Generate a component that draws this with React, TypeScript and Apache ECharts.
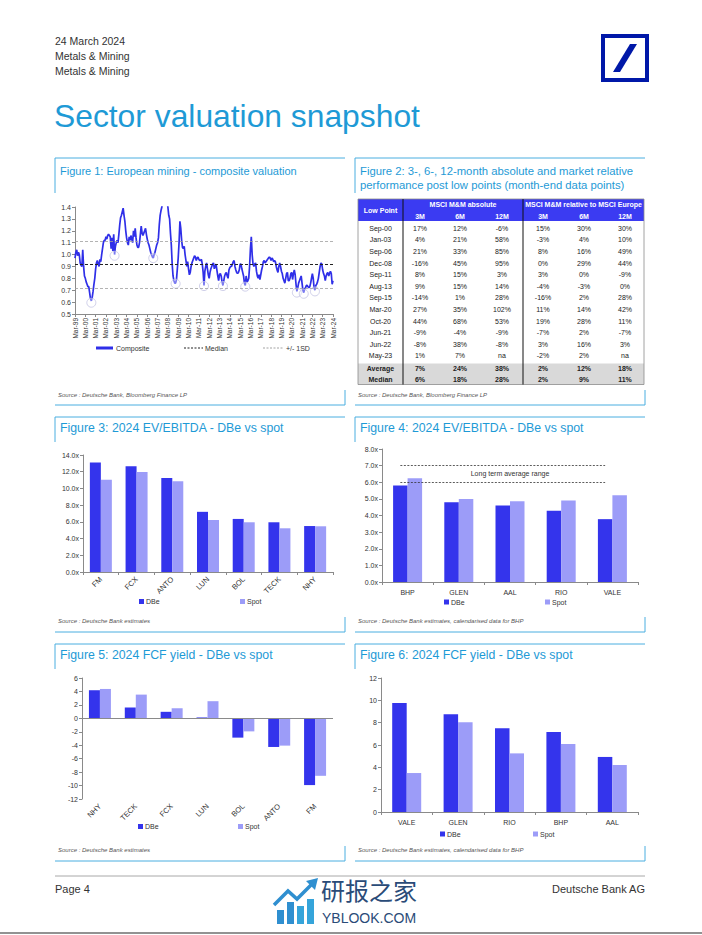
import React, { useEffect, useRef } from 'react';
import * as echarts from 'echarts';

const FONT = '"Liberation Sans", Arial, Helvetica, sans-serif';
const CJK = '"Noto Sans CJK SC", sans-serif';
const DBE = '#3434EC';
const SPOT = '#9C9CF8';
const FRAME = '#4AAEE0';
const TITLE_BLUE = '#1E9AD6';
const TEXT = '#333333';
const AXIS = '#8A8A8A';

// ---------- Figure 1: composite valuation (monthly, Mar-99 .. Mar-24) ----------
const MONTH_NAMES = ['Mar', 'Apr', 'May', 'Jun', 'Jul', 'Aug', 'Sep', 'Oct', 'Nov', 'Dec', 'Jan', 'Feb'];
const START_YEAR = 1999;
const COMPOSITE = [
  0.97, 1.02, 1.04, 0.99, 1.02, 1.0, 0.93, 0.91, 0.9, 1.04, 0.9, 0.82,
  0.8, 0.77, 0.75, 0.73, 0.73, 0.68, 0.63, 0.61, 0.64, 0.69, 0.75, 0.8,
  0.88, 0.93, 0.95, 0.92, 0.9, 0.96, 0.94, 1.0, 1.05, 1.1, 1.12, 1.12,
  1.15, 1.13, 1.16, 1.17, 1.16, 1.15, 1.05, 1.14, 1.03, 1.17, 1.0, 1.07,
  1.1, 1.12, 1.1, 1.17, 1.25, 1.31, 1.33, 1.36, 1.39, 1.33, 1.28, 1.2,
  1.14, 1.1, 1.08, 1.15, 1.12, 1.16, 1.13, 1.1, 1.2, 1.15, 1.22, 1.14,
  1.08, 1.06, 1.06, 1.1, 1.17, 1.24, 1.18, 1.16, 1.18, 1.2, 1.22, 1.17,
  1.13, 1.1, 1.08, 1.05, 1.02, 1.0, 0.98, 0.97, 1.0, 1.02, 1.05, 1.08,
  1.1, 1.14, 1.25, 1.33, 1.37, 1.4, 1.45, 1.5, 1.55, 1.52, 1.5, 1.45,
  1.4, 1.33, 1.3, 1.18, 1.08, 0.92, 0.82, 0.78, 0.76, 0.76, 0.79, 0.88,
  0.97, 1.1, 1.28, 1.22, 1.12, 1.06, 1.05, 1.07, 1.0, 0.95, 0.9, 0.94,
  0.88, 0.83, 0.85, 0.9, 0.93, 0.95, 0.97, 0.99, 0.98, 0.95, 0.97, 0.98,
  0.96, 0.95, 0.95, 0.96, 0.92, 0.85, 0.74, 0.86, 0.9, 0.93, 0.88, 0.83,
  0.8, 0.85, 0.88, 0.9, 0.92, 0.93, 0.88, 0.9, 0.92, 0.87, 0.82, 0.78,
  0.83, 0.84, 0.82, 0.77, 0.74, 0.78, 0.82, 0.84, 0.85, 0.82, 0.8, 0.87,
  0.89, 0.9, 0.9, 0.92, 0.94, 0.95, 0.9, 0.87, 0.85, 0.84, 0.85, 0.87,
  0.92, 0.92, 0.88, 0.85, 0.82, 0.76, 0.74, 0.82, 0.77, 0.78, 0.8, 0.9,
  1.05, 1.15, 1.0, 0.92, 0.9, 0.92, 0.93, 0.86, 0.82, 0.8, 0.83, 0.79,
  0.83, 0.87, 0.9, 0.94, 0.95, 0.93, 0.94, 0.95, 0.96, 0.97, 0.98, 0.97,
  0.95, 0.97, 0.96, 0.94, 0.95, 0.94, 0.9, 0.87, 0.85, 0.9, 0.93, 0.9,
  0.86, 0.84, 0.8, 0.78, 0.76, 0.8, 0.84, 0.85, 0.78, 0.78, 0.8, 0.84,
  0.85, 0.79, 0.84, 0.87, 0.83, 0.75, 0.69, 0.72, 0.76, 0.78, 0.8, 0.82,
  0.76, 0.7, 0.68, 0.71, 0.72, 0.74, 0.74, 0.73, 0.72, 0.73, 0.76, 0.8,
  0.84, 0.8, 0.72, 0.7, 0.74, 0.75, 0.77, 0.8, 0.85, 0.9, 0.93, 0.92,
  0.87, 0.84, 0.82, 0.78, 0.82, 0.84, 0.85, 0.82, 0.84, 0.86, 0.84, 0.75,
  0.78,
];
const MEDIAN = 0.92;
const PLUS_1SD = 1.11;
const MINUS_1SD = 0.725;
// low points marked with circles: [month index from Mar-99, value]
const LOW_CIRCLES = [
  [19, 0.595], [46, 0.99], [91, 0.97], [117, 0.755], [150, 0.735],
  [172, 0.735], [198, 0.73], [258, 0.68], [266, 0.67], [279, 0.69],
];

// ---------- Figure 2: table ----------
const LOW_POINTS = ['Sep-00', 'Jan-03', 'Sep-06', 'Dec-08', 'Sep-11', 'Aug-13', 'Sep-15', 'Mar-20', 'Oct-20', 'Jun-21', 'Jun-22', 'May-23'];
const ABS_3M = ['17%', '4%', '21%', '-16%', '8%', '9%', '-14%', '27%', '44%', '-9%', '-8%', '1%'];
const ABS_6M = ['12%', '21%', '33%', '45%', '15%', '15%', '1%', '35%', '68%', '-4%', '38%', '7%'];
const ABS_12M = ['-6%', '58%', '85%', '95%', '3%', '14%', '28%', '102%', '53%', '-9%', '-8%', 'na'];
const REL_3M = ['15%', '-3%', '8%', '0%', '3%', '-4%', '-16%', '11%', '19%', '-7%', '3%', '-2%'];
const REL_6M = ['30%', '4%', '16%', '29%', '0%', '-3%', '2%', '14%', '28%', '2%', '16%', '2%'];
const REL_12M = ['30%', '10%', '49%', '44%', '-9%', '0%', '28%', '42%', '11%', '-7%', '3%', 'na'];
const SUMMARY_LABELS = ['Average', 'Median'];
const SUMMARY_ROWS = [
  ['7%', '24%', '38%', '2%', '12%', '18%'],
  ['6%', '18%', '28%', '2%', '9%', '11%'],
];
const PERIODS = ['3M', '6M', '12M'];

// ---------- Figure 3: 2024 EV/EBITDA ----------
const FIG3_CATS = ['FM', 'FCX', 'ANTO', 'LUN', 'BOL', 'TECK', 'NHY'];
const FIG3_DBE = [13.1, 12.65, 11.25, 7.2, 6.35, 5.95, 5.5];
const FIG3_SPOT = [11.05, 11.98, 10.85, 6.22, 5.95, 5.23, 5.47];

// ---------- Figure 4: 2024 EV/EBITDA ----------
const FIG4_CATS = ['BHP', 'GLEN', 'AAL', 'RIO', 'VALE'];
const FIG4_DBE = [5.8, 4.8, 4.6, 4.28, 3.78];
const FIG4_SPOT = [6.24, 5.0, 4.86, 4.9, 5.22];
const LT_LOW = 6;
const LT_HIGH = 7;

// ---------- Figure 5: 2024 FCF yield ----------
const FIG5_CATS = ['NHY', 'TECK', 'FCX', 'LUN', 'BOL', 'ANTO', 'FM'];
const FIG5_DBE = [4.18, 1.6, 0.97, 0.13, -2.87, -4.26, -9.93];
const FIG5_SPOT = [4.37, 3.53, 1.5, 2.55, -1.94, -4.06, -8.55];

// ---------- Figure 6: 2024 FCF yield ----------
const FIG6_CATS = ['VALE', 'GLEN', 'RIO', 'BHP', 'AAL'];
const FIG6_DBE = [9.76, 8.75, 7.49, 7.16, 4.93];
const FIG6_SPOT = [3.49, 8.03, 5.25, 6.09, 4.21];

function monthLabels(n: number): string[] {
  const out: string[] = [];
  for (let i = 0; i < n; i++) {
    const yr = START_YEAR + Math.floor((i + 2) / 12);
    out.push(MONTH_NAMES[i % 12] + '-' + String(yr % 100).padStart(2, '0'));
  }
  return out;
}

function buildGraphics(): any[] {
  const g: any[] = [];
  const text = (x: number, y: number, t: string, size: number, color: string, extra: any = {}) =>
    g.push({
      type: 'text', x, y, silent: true,
      style: { text: t, fontSize: size, fill: color, fontFamily: FONT, align: 'left', verticalAlign: 'middle', ...extra },
    });
  const line = (x1: number, y1: number, x2: number, y2: number, stroke: string, w = 1, dash?: number[]) =>
    g.push({ type: 'line', silent: true, shape: { x1, y1, x2, y2 }, style: { stroke, lineWidth: w, lineDash: dash } });
  const rect = (x: number, y: number, w: number, h: number, fill: string, stroke?: string, lw = 1) =>
    g.push({ type: 'rect', silent: true, shape: { x, y, width: w, height: h }, style: { fill, stroke, lineWidth: lw } });

  // header
  text(55, 41, '24 March 2024', 10.5, TEXT);
  text(55, 56, 'Metals & Mining', 10.5, TEXT);
  text(55, 71, 'Metals & Mining', 10.5, TEXT);
  // logo
  rect(603, 36, 44, 44, '#ffffff', '#0018A8', 4);
  g.push({ type: 'polygon', silent: true, shape: { points: [[613, 72], [620, 72], [637, 44], [630, 44]] }, style: { fill: '#0018A8' } });
  // title
  text(54, 116, 'Sector valuation snapshot', 31.8, TITLE_BLUE);

  // frames
  const frames = [
    { x: 55, top: 158, bottom: 405, lv: 35 },
    { x: 355, top: 158, bottom: 405, lv: 35 },
    { x: 55, top: 417, bottom: 632, lv: 25 },
    { x: 355, top: 417, bottom: 632, lv: 25 },
    { x: 55, top: 644, bottom: 861, lv: 25 },
    { x: 355, top: 644, bottom: 861, lv: 25 },
  ];
  frames.forEach((f) => {
    line(f.x, f.top, f.x + 290, f.top, FRAME, 1);
    line(f.x, f.top, f.x, f.top + f.lv, FRAME, 1);
    line(f.x, f.bottom, f.x + 290, f.bottom, FRAME, 1);
    line(f.x + 290, f.bottom - 15, f.x + 290, f.bottom, FRAME, 1);
  });

  // figure titles
  text(60, 171, 'Figure 1: European mining - composite valuation', 11, TITLE_BLUE);
  text(360, 171, 'Figure 2: 3-, 6-, 12-month absolute and market relative', 11.3, TITLE_BLUE);
  text(360, 185, 'performance post low points (month-end data points)', 11.3, TITLE_BLUE);
  text(60, 428, 'Figure 3: 2024 EV/EBITDA - DBe vs spot', 12.3, TITLE_BLUE);
  text(360, 428, 'Figure 4: 2024 EV/EBITDA - DBe vs spot', 12.3, TITLE_BLUE);
  text(60, 655, 'Figure 5: 2024 FCF yield - DBe vs spot', 12.3, TITLE_BLUE);
  text(360, 655, 'Figure 6: 2024 FCF yield - DBe vs spot', 12.3, TITLE_BLUE);

  // sources
  const src = { fontStyle: 'italic' };
  text(58, 395, 'Source : Deutsche Bank, Bloomberg Finance LP', 6, '#555', src);
  text(358, 395, 'Source : Deutsche Bank, Bloomberg Finance LP', 6, '#555', src);
  text(58, 621, 'Source : Deutsche Bank estimates', 6, '#555', src);
  text(358, 621, 'Source : Deutsche Bank estimates, calendarised data for BHP', 6, '#555', src);
  text(58, 850, 'Source : Deutsche Bank estimates', 6, '#555', src);
  text(358, 850, 'Source : Deutsche Bank estimates, calendarised data for BHP', 6, '#555', src);

  // figure 1 legend
  line(96, 348, 113, 348, '#2F2FE8', 3);
  text(116, 348, 'Composite', 7, TEXT);
  line(184, 348, 203, 348, '#222', 1.2, [2, 1.5]);
  text(205, 348, 'Median', 7, TEXT);
  line(263, 348, 283, 348, '#999', 0.9, [2, 1.5]);
  text(286, 348, '+/- 1SD', 7, TEXT);

  // bar legends
  const barLegend = (x1: number, x2: number, y: number) => {
    rect(x1, y - 2.5, 5, 5, DBE);
    text(x1 + 7, y, 'DBe', 7, TEXT);
    rect(x2, y - 2.5, 5, 5, SPOT);
    text(x2 + 7, y, 'Spot', 7, TEXT);
  };
  barLegend(139, 240, 601.5);
  barLegend(444, 545, 602);
  barLegend(138, 238, 826.5);
  barLegend(440, 533, 834);

  // ---------- table (figure 2) ----------
  const tL = 358, tR = 644, tTop = 199, hBot = 221;
  const d1 = 403, d2 = 523;
  const rowY0 = 228.3, rowH = 11.6;
  const sumTop = 363.5, sumBot = 384.5;
  const HEAD_BLUE = '#3B3BF2';
  rect(tL, tTop, tR - tL, hBot - tTop, HEAD_BLUE);
  rect(tL, sumTop, tR - tL, sumBot - sumTop, '#D9D9D9');
  rect(tL, tTop, tR - tL, sumBot - tTop, 'none', '#8C8C8C', 0.8);
  line(d1, tTop, d1, sumBot, '#111', 1);
  line(d2, tTop, d2, sumBot, '#111', 1);
  const bold = { fontWeight: 'bold', align: 'center' };
  text((tL + d1) / 2, 210, 'Low Point', 7, '#fff', bold);
  text((d1 + d2) / 2, 204.5, 'MSCI M&M absolute', 7, '#fff', bold);
  text((d2 + tR) / 2, 204.5, 'MSCI M&M relative to MSCI Europe', 7, '#fff', bold);
  const colX = [420, 460, 502, 543, 584, 625];
  PERIODS.forEach((p, i) => {
    text(colX[i], 216, p, 7, '#fff', bold);
    text(colX[i + 3], 216, p, 7, '#fff', bold);
  });
  const cols = [ABS_3M, ABS_6M, ABS_12M, REL_3M, REL_6M, REL_12M];
  LOW_POINTS.forEach((lp, r) => {
    const y = rowY0 + r * rowH;
    text((tL + d1) / 2, y, lp, 7, '#222', { align: 'center' });
    cols.forEach((c, j) => text(colX[j], y, c[r], 7, '#222', { align: 'center' }));
  });
  SUMMARY_LABELS.forEach((lab, r) => {
    const y = 368.5 + r * 10.5;
    text((tL + d1) / 2, y, lab, 7, '#222', bold);
    SUMMARY_ROWS[r].forEach((v, j) => text(colX[j], y, v, 7, '#222', bold));
  });

  // footer
  line(55, 876, 645, 876, '#A8A8A8', 1);
  text(55, 889, 'Page 4', 11, TEXT);
  text(645, 889, 'Deutsche Bank AG', 11, TEXT, { align: 'right' });
  line(0, 933, 702, 933, '#6E6E6E', 1.5);
  // watermark
  const WM = '#2A4B78';
  rect(277, 910, 7, 14, '#2F8FD0');
  rect(287, 902, 7, 22, '#2F8FD0');
  rect(297, 906, 7, 18, '#35A4DA');
  rect(307, 899, 7, 25, '#35A4DA');
  g.push({ type: 'polyline', silent: true, shape: { points: [[274, 905], [288, 891], [297, 899], [312, 884]] }, style: { stroke: '#2F8FD0', lineWidth: 3.5, fill: 'none' } });
  g.push({ type: 'polygon', silent: true, shape: { points: [[306, 881], [318, 878], [315, 890]] }, style: { fill: '#2F8FD0' } });
  g.push({ type: 'text', x: 321, y: 889, silent: true, style: { text: '研报之家', fontSize: 24, fill: WM, fontFamily: CJK, verticalAlign: 'middle', align: 'left' } });
  g.push({ type: 'text', x: 322, y: 918, silent: true, style: { text: 'YBLOOK.COM', fontSize: 14, fill: WM, fontFamily: FONT, verticalAlign: 'middle', align: 'left' } });

  return g;
}

export default function App() {
  const ref = useRef<HTMLDivElement>(null);

  useEffect(() => {
    if (!ref.current) return;
    const chart = echarts.init(ref.current, undefined, { renderer: 'svg' });
    const months = monthLabels(COMPOSITE.length);

    const axisLine = { show: true, lineStyle: { color: AXIS, width: 1 } };
    const axisTick = { show: true, length: 3, lineStyle: { color: AXIS } };
    const lab = { color: TEXT, fontSize: 7, fontFamily: FONT };

    const yVal = (gridIndex: number, min: number, max: number, interval: number, fmt: (v: number) => string) => ({
      type: 'value', gridIndex, min, max, interval,
      axisLine, axisTick, splitLine: { show: false },
      axisLabel: { ...lab, margin: 4, formatter: fmt },
    });

    const barPair = (idx: number, dbe: number[], spot: number[], width: number, extraDbe: any = {}) => [
      {
        name: 'DBe', type: 'bar', xAxisIndex: idx, yAxisIndex: idx, data: dbe, barWidth: width, barGap: '0%',
        itemStyle: { color: DBE }, ...extraDbe,
      },
      {
        name: 'Spot', type: 'bar', xAxisIndex: idx, yAxisIndex: idx, data: spot, barWidth: width, barGap: '0%',
        itemStyle: { color: SPOT },
      },
    ];

    const option: any = {
      animation: false,
      backgroundColor: '#ffffff',
      textStyle: { fontFamily: FONT },
      grid: [
        { left: 75, top: 207, width: 258, height: 107 },
        { left: 83, top: 455, width: 250, height: 117 },
        { left: 382, top: 449, width: 256, height: 133 },
        { left: 82, top: 678, width: 251, height: 121 },
        { left: 381, top: 678, width: 257, height: 134 },
      ],
      xAxis: [
        {
          type: 'category', gridIndex: 0, data: months, boundaryGap: false, axisLine,
          axisTick: { ...axisTick, interval: 11 },
          axisLabel: { ...lab, fontSize: 6.5, interval: 11, rotate: 90, margin: 4 },
        },
        { type: 'category', gridIndex: 1, data: FIG3_CATS, axisLine, axisTick, axisLabel: { ...lab, fontSize: 7.5, rotate: 45, margin: 6 } },
        { type: 'category', gridIndex: 2, data: FIG4_CATS, axisLine, axisTick, axisLabel: { ...lab, margin: 7 } },
        {
          type: 'category', gridIndex: 3, data: FIG5_CATS, axisLine: { show: false }, axisTick: { show: false },
          axisLabel: { ...lab, fontSize: 7.5, rotate: 45, margin: 6 },
        },
        { type: 'category', gridIndex: 4, data: FIG6_CATS, axisLine, axisTick, axisLabel: { ...lab, margin: 7 } },
      ],
      yAxis: [
        yVal(0, 0.5, 1.4, 0.1, (v) => v.toFixed(1)),
        yVal(1, 0, 14, 2, (v) => v.toFixed(1) + 'x'),
        yVal(2, 0, 8, 1, (v) => v.toFixed(1) + 'x'),
        yVal(3, -12, 6, 2, (v) => String(Math.round(v))),
        yVal(4, 0, 12, 2, (v) => String(Math.round(v))),
      ],
      series: [
        {
          name: 'Composite', type: 'line', xAxisIndex: 0, yAxisIndex: 0, data: COMPOSITE,
          showSymbol: false, symbol: 'none', clip: true,
          lineStyle: { color: '#2F2FE8', width: 1.7 }, z: 3,
          markLine: {
            silent: true, symbol: 'none', label: { show: false }, animation: false,
            data: [
              { yAxis: MEDIAN, lineStyle: { color: '#222', type: [3, 2], width: 1.2 } },
              { yAxis: PLUS_1SD, lineStyle: { color: '#A0A0A0', type: [3, 2], width: 0.8 } },
              { yAxis: MINUS_1SD, lineStyle: { color: '#A0A0A0', type: [3, 2], width: 0.8 } },
            ],
          },
        },
        {
          name: 'Low points', type: 'scatter', xAxisIndex: 0, yAxisIndex: 0, data: LOW_CIRCLES,
          symbol: 'circle', symbolSize: 9, z: 4,
          itemStyle: { color: 'rgba(255,255,255,0.45)', borderColor: '#C4C4E4', borderWidth: 1 },
        },
        ...barPair(1, FIG3_DBE, FIG3_SPOT, 11),
        ...barPair(2, FIG4_DBE, FIG4_SPOT, 14.5, {
          markLine: {
            silent: true, symbol: 'none', label: { show: false },
            lineStyle: { color: '#333', type: [2, 1.5], width: 0.8 },
            data: [
              [{ coord: [0, LT_HIGH] }, { coord: [4, LT_HIGH] }],
              [{ coord: [0, LT_LOW] }, { coord: [4, LT_LOW] }],
            ],
          },
          markArea: {
            silent: true,
            itemStyle: { color: 'rgba(0,0,0,0)' },
            label: { show: true, position: 'inside', fontSize: 7, color: TEXT, fontFamily: FONT },
            data: [[{ name: 'Long term average range', coord: [0, LT_LOW] }, { coord: [4, LT_HIGH] }]],
          },
        }),
        ...barPair(3, FIG5_DBE, FIG5_SPOT, 11, {
          markLine: {
            silent: true, symbol: 'none', label: { show: false },
            lineStyle: { color: AXIS, type: 'solid', width: 1 },
            data: [{ yAxis: 0 }],
          },
        }),
        ...barPair(4, FIG6_DBE, FIG6_SPOT, 14.5),
      ],
      graphic: buildGraphics(),
    };

    chart.setOption(option);
    return () => chart.dispose();
  }, []);

  return (
    <div
      ref={ref}
      style={{ position: 'absolute', left: 0, top: 0, width: 702, height: 935, background: '#fff' }}
    />
  );
}
